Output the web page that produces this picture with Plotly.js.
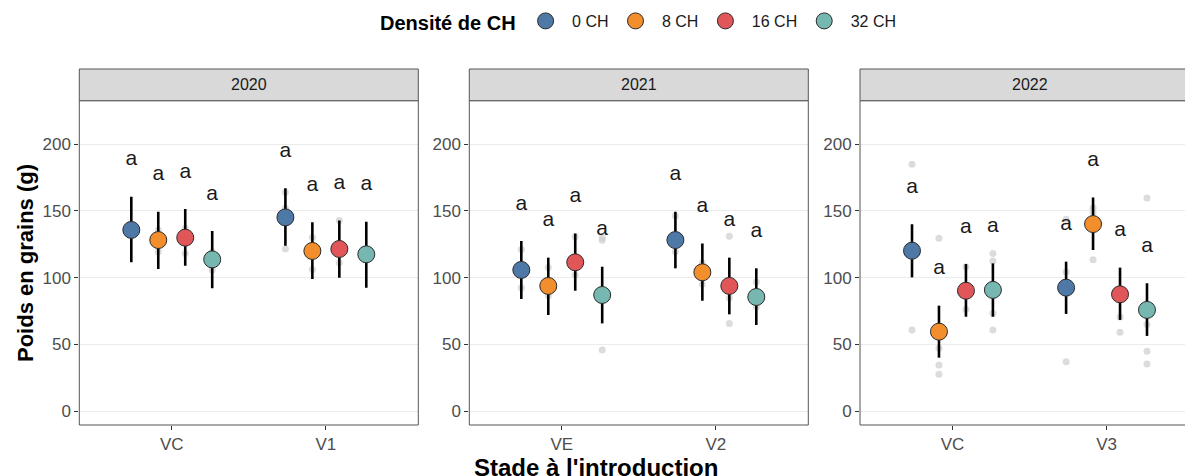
<!DOCTYPE html>
<html>
<head>
<meta charset="utf-8">
<script src="https://cdn.plot.ly/plotly-3.0.1.min.js"></script>
<style>
  html, body { margin: 0; padding: 0; overflow: hidden; background: #ffffff; }
  #chart { width: 1200px; height: 476px; }
</style>
</head>
<body>
<div id="chart"></div>
<script>
// Seed weight (g) by cover-crop density and stage of introduction, one panel per year.
const years = ['2020', '2021', '2022'];
const stages2020 = ['VC', 'V1'];
const stages2021 = ['VE', 'V2'];
const stages2022 = ['VC', 'V3'];
const densities = ['0 CH', '8 CH', '16 CH', '32 CH'];
const densityColors = ['#4E79A7', '#F28E2B', '#E15759', '#76B7B2'];

// Means, rows = stage, columns = density
const mean2020 = [[135.8, 128.2, 130.0, 113.7], [145.2, 120.0, 121.5, 117.5]];
const lower2020 = [[111.5, 106.5, 109.0, 92.0], [124.0, 99.0, 100.0, 92.5]];
const upper2020 = [[160.7, 149.5, 151.5, 135.0], [167.0, 141.5, 142.8, 142.0]];

const mean2021 = [[105.8, 93.8, 111.5, 87.0], [128.2, 104.0, 93.8, 85.5]];
const lower2021 = [[84.0, 72.0, 90.2, 65.7], [107.0, 82.7, 72.5, 64.5]];
const upper2021 = [[127.5, 115.0, 133.2, 108.2], [149.5, 125.7, 115.0, 107.0]];

const mean2022 = [[120.2, 59.5, 90.2, 90.8], [92.5, 140.2, 87.5, 75.8]];
const lower2022 = [[100.2, 40.0, 70.7, 70.7], [72.8, 120.7, 68.3, 56.3]];
const upper2022 = [[140.0, 79.0, 110.2, 110.7], [112.0, 160.2, 107.5, 95.8]];

// Tukey group letters
const letters2020 = [['a', 'a', 'a', 'a'], ['a', 'a', 'a', 'a']];
const letters2021 = [['a', 'a', 'a', 'a'], ['a', 'a', 'a', 'a']];
const letters2022 = [['a', 'a', 'a', 'a'], ['a', 'a', 'a', 'a']];

// Individual plots: [stage index, density index, seed weight]
const raw2020 = [
  [0, 1, 135.7], [0, 1, 119.5], [0, 2, 137.0], [0, 2, 118.2],
  [0, 3, 119.5], [0, 3, 105.7],
  [1, 0, 164.0], [1, 0, 152.0], [1, 0, 121.5], [1, 1, 130.2], [1, 1, 106.2],
  [1, 2, 142.8], [1, 2, 111.2]
];
const raw2021 = [
  [0, 0, 121.2], [0, 0, 92.5], [0, 1, 107.7], [0, 1, 86.5],
  [0, 2, 130.7], [0, 2, 102.0], [0, 3, 130.0], [0, 3, 128.0], [0, 3, 45.8],
  [1, 0, 146.2], [1, 0, 119.5], [1, 1, 111.0], [1, 1, 95.1],
  [1, 2, 131.0], [1, 2, 84.7], [1, 2, 65.7], [1, 3, 96.7], [1, 3, 78.0]
];
const raw2022 = [
  [0, 0, 185.0], [0, 0, 60.8], [0, 1, 129.5], [0, 1, 47.0], [0, 1, 34.5], [0, 1, 27.5],
  [0, 2, 108.2], [0, 2, 76.2], [0, 3, 118.2], [0, 3, 112.5], [0, 3, 73.2], [0, 3, 60.8],
  [1, 0, 143.8], [1, 0, 104.2], [1, 0, 37.0], [1, 1, 152.5], [1, 1, 149.0], [1, 1, 113.5],
  [1, 2, 70.5], [1, 2, 59.0], [1, 3, 159.8], [1, 3, 64.8], [1, 3, 44.8], [1, 3, 35.2]
];

const panels = [
  { year: years[0], stages: stages2020, mean: mean2020, lower: lower2020, upper: upper2020, letters: letters2020, raw: raw2020 },
  { year: years[1], stages: stages2021, mean: mean2021, lower: lower2021, upper: upper2021, letters: letters2021, raw: raw2021 },
  { year: years[2], stages: stages2022, mean: mean2022, lower: lower2022, upper: upper2022, letters: letters2022, raw: raw2022 }
];

// Layout geometry (pixels of a 1200 x 476 canvas)
const W = 1200, H = 476;
const panelX = [[79.3, 418.3], [469.3, 808.3], [860, 1199]];
const panelTop = 100.7, panelBottom = 425, stripTop = 69;
const dodge = 0.175;        // spacing between densities within a stage
const letterGap = 27.5;     // letters sit above the upper error limit
const FONT = 'Liberation Sans, Arial, Helvetica, sans-serif';
const PAD = '\u00a0';       // small lead-in between legend key and label

const fx = px => px / W;
const fy = py => 1 - py / H;
const dodgeX = (s, d) => s + 1 + (d - 1.5) * dodge;

const traces = [];
const layout = {
  width: W, height: H,
  margin: { l: 0, r: 0, t: 0, b: 0, autoexpand: false },
  paper_bgcolor: '#ffffff', plot_bgcolor: '#ffffff',
  font: { family: FONT, color: '#4d4d4d' },
  showlegend: true,
  legend: {
    orientation: 'h', x: fx(378), xanchor: 'left', y: fy(22), yanchor: 'middle',
    title: { text: '<b>Densité de CH</b>', side: 'left', font: { size: 20, color: '#000000', family: FONT } },
    font: { size: 16, color: '#1a1a1a', family: FONT },
    itemwidth: 34,
    bgcolor: 'rgba(0,0,0,0)', borderwidth: 0, itemclick: false, itemdoubleclick: false
  },
  shapes: [], annotations: []
};

panels.forEach((p, i) => {
  const n = i === 0 ? '' : String(i + 1);
  const xa = 'x' + n, ya = 'y' + n;

  layout['xaxis' + n] = {
    domain: [fx(panelX[i][0]), fx(panelX[i][1])], anchor: ya,
    range: [0.4, 2.6], tickvals: [1, 2], ticktext: p.stages,
    showgrid: false, zeroline: false, showline: false,
    ticks: 'outside', ticklen: 4, tickwidth: 1, tickcolor: '#333333',
    tickfont: { size: 17, color: '#4d4d4d', family: FONT }, fixedrange: true
  };
  layout['yaxis' + n] = {
    domain: [fy(panelBottom), fy(panelTop)], anchor: xa,
    range: [-10.5, 232.7], tickvals: [0, 50, 100, 150, 200],
    showgrid: true, gridcolor: '#ebebeb', gridwidth: 1, zeroline: false, showline: false,
    ticks: 'outside', ticklen: 4, tickwidth: 1, tickcolor: '#333333',
    tickfont: { size: 17, color: '#4d4d4d', family: FONT }, fixedrange: true
  };

  // individual observations
  traces.push({
    type: 'scatter', mode: 'markers', xaxis: xa, yaxis: ya, showlegend: false, hoverinfo: 'skip',
    x: p.raw.map(r => dodgeX(r[0], r[1])), y: p.raw.map(r => r[2]),
    marker: { size: 7, color: 'rgba(205,205,205,0.7)', line: { width: 0 } }
  });

  // means with error bars, one trace per density
  densities.forEach((dens, d) => {
    const ys = p.mean.map(row => row[d]);
    const lo = p.lower.map(row => row[d]);
    const hi = p.upper.map(row => row[d]);
    traces.push({
      type: 'scatter', mode: 'markers', xaxis: xa, yaxis: ya,
      name: PAD + dens, legendgroup: dens, showlegend: i === 0,
      x: [dodgeX(0, d), dodgeX(1, d)], y: ys,
      error_y: {
        type: 'data', symmetric: false,
        array: hi.map((h, k) => h - ys[k]), arrayminus: lo.map((l, k) => ys[k] - l),
        color: '#000000', thickness: 2.6, width: 0
      },
      marker: { size: 17, color: densityColors[d], line: { color: '#2b2b2b', width: 1 } },
      hovertemplate: dens + ': %{y:.1f} g<extra></extra>'
    });
  });

  // group letters above each error bar
  const lx = [], ly = [], lt = [];
  p.upper.forEach((row, s) => row.forEach((u, d) => {
    lx.push(dodgeX(s, d)); ly.push(u + letterGap); lt.push(p.letters[s][d]);
  }));
  traces.push({
    type: 'scatter', mode: 'text', xaxis: xa, yaxis: ya, showlegend: false, hoverinfo: 'skip',
    x: lx, y: ly, text: lt, textposition: 'middle center',
    textfont: { size: 21, color: '#1a1a1a', family: FONT }
  });

  // panel border
  layout.shapes.push({
    type: 'rect', xref: 'paper', yref: 'paper',
    x0: fx(panelX[i][0]), x1: fx(panelX[i][1]), y0: fy(panelBottom), y1: fy(panelTop),
    line: { color: '#555555', width: 1 }, fillcolor: 'rgba(0,0,0,0)', layer: 'above'
  });
  // facet strip
  layout.shapes.push({
    type: 'rect', xref: 'paper', yref: 'paper',
    x0: fx(panelX[i][0]), x1: fx(panelX[i][1]), y0: fy(panelTop), y1: fy(stripTop),
    line: { color: '#555555', width: 1 }, fillcolor: '#d9d9d9', layer: 'above'
  });
  layout.annotations.push({
    xref: 'paper', yref: 'paper', x: fx((panelX[i][0] + panelX[i][1]) / 2), y: fy((stripTop + panelTop) / 2),
    text: p.year, showarrow: false, xanchor: 'center', yanchor: 'middle',
    font: { size: 16, color: '#1a1a1a', family: FONT }
  });
});

// axis titles
layout.annotations.push({
  xref: 'paper', yref: 'paper', x: fx(596), y: fy(467), xanchor: 'center', yanchor: 'middle',
  text: "<b>Stade à l'introduction</b>", showarrow: false,
  font: { size: 24, color: '#000000', family: FONT }
});
layout.annotations.push({
  xref: 'paper', yref: 'paper', x: fx(25), y: fy(263), xanchor: 'center', yanchor: 'middle',
  text: '<b>Poids en grains (g)</b>', showarrow: false, textangle: -90,
  font: { size: 22, color: '#000000', family: FONT }
});

Plotly.newPlot('chart', traces, layout, { displayModeBar: false, staticPlot: true });
</script>
</body>
</html>
